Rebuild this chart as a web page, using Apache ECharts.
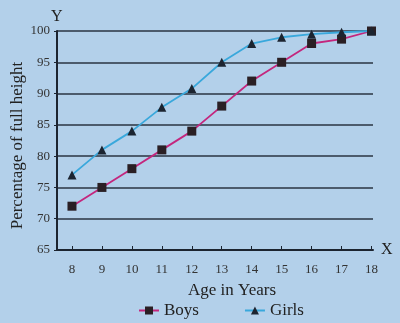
<!DOCTYPE html>
<html><head><meta charset="utf-8">
<script src="https://cdn.jsdelivr.net/npm/echarts@6/dist/echarts.min.js"></script>
<style>html,body{margin:0;padding:0;background:#b3d0ea;}#c{width:400px;height:323px;}</style>
</head><body><div id="c"></div>
<script>
const ages = [8, 9, 10, 11, 12, 13, 14, 15, 16, 17, 18];
const boys = [72, 75, 78, 81, 84, 88, 92, 95, 98, 98.7, 100];
const girls = [77, 81, 84, 87.8, 90.8, 95, 98, 99, 99.5, 99.8, 100];
const yTicks = [65, 70, 75, 80, 85, 90, 95, 100];

const chart = echarts.init(document.getElementById('c'));
const serif = '"Liberation Serif", "DejaVu Serif", serif';
chart.setOption({
  backgroundColor: '#b3d0ea',
  animation: false,
  grid: { left: 57, right: 27, top: 31, bottom: 73, outerBoundsMode: 'none', containLabel: false },
  xAxis: {
    type: 'value', min: 7.5, max: 18.05,
    name: 'Age in Years', nameLocation: 'middle', nameGap: 32,
    nameTextStyle: { fontFamily: serif, fontSize: 17, color: '#222', padding: [0, 0, 0, 34] },
    axisLine: { lineStyle: { color: '#1c2430', width: 2 } },
    axisTick: { show: true, inside: true, length: 4, customValues: ages, lineStyle: { color: '#1c2430' } },
    axisLabel: { customValues: ages, margin: 13, fontFamily: serif, fontSize: 13, color: '#333' },
    splitLine: { show: false }
  },
  yAxis: {
    type: 'value', min: 65, max: 100, interval: 5,
    name: 'Percentage of full height', nameLocation: 'middle', nameGap: 31, nameRotate: 90,
    nameMoveOverlap: false,
    nameTextStyle: { fontFamily: serif, fontSize: 17, color: '#222', padding: [0, 10, 0, 0] },
    axisLine: { show: true, lineStyle: { color: '#1c2430', width: 2 } },
    axisTick: { show: true, length: 3, lineStyle: { color: '#1c2430' } },
    axisLabel: { margin: 7, fontFamily: serif, fontSize: 13, color: '#333' },
    splitLine: { show: true, lineStyle: { color: '#4c5b6c', width: 2 } }
  },
  legend: {
    top: 302, left: 138, padding: 0, itemGap: 45, itemWidth: 20, itemHeight: 10,
    textStyle: { fontFamily: serif, fontSize: 17, color: '#222' },
    data: ['Boys', 'Girls']
  },
  graphic: [
    { type: 'text', left: 51, top: 9, style: { text: 'Y', font: '16px ' + serif, fill: '#222' } },
    { type: 'text', left: 381, top: 242, style: { text: 'X', font: '16px ' + serif, fill: '#222' } }
  ],
  series: [
    {
      name: 'Boys', type: 'line', data: ages.map((a, i) => [a, boys[i]]),
      symbol: 'rect', symbolSize: 9,
      itemStyle: { color: '#2a1f24' },
      lineStyle: { color: '#c4267d', width: 1.8 }
    },
    {
      name: 'Girls', type: 'line', data: ages.map((a, i) => [a, girls[i]]),
      symbol: 'triangle', symbolSize: 9,
      itemStyle: { color: '#1c2430' },
      lineStyle: { color: '#39a8dc', width: 1.8 }
    }
  ]
});
</script></body></html>
